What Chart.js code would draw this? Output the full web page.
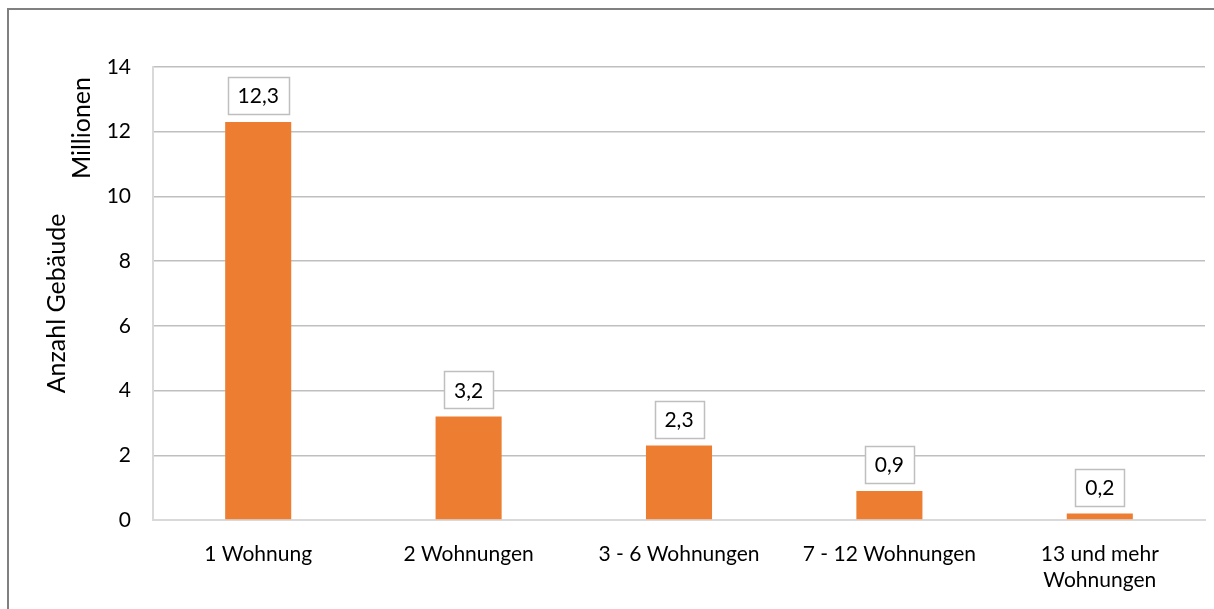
<!DOCTYPE html>
<html><head><meta charset="utf-8">
<script src="https://cdn.jsdelivr.net/npm/chart.js@4.4.0/dist/chart.umd.min.js"></script>
<style>html,body{margin:0;padding:0;background:#fff;}#wrap{width:1214px;height:609px;position:relative;}</style>
</head><body><div id="wrap"><canvas id="c" width="1214" height="609"></canvas></div>
<script>
const categories = [["1 Wohnung"], ["2 Wohnungen"], ["3 - 6 Wohnungen"], ["7 - 12 Wohnungen"], ["13 und mehr", "Wohnungen"]];
const values = [12.3, 3.2, 2.3, 0.9, 0.2];
const valueLabels = ["12,3", "3,2", "2,3", "0,9", "0,2"];
const yTitle = "Anzahl Gebäude";
const unitLabel = "Millionen";
const FONT = "Lato, 'Open Sans', sans-serif";

const decor = {
  id: 'decor',
  beforeDraw(chart) {
    const ctx = chart.ctx;
    ctx.save();
    ctx.fillStyle = '#fff';
    ctx.fillRect(0, 0, chart.width, chart.height);
    ctx.strokeStyle = '#808080';
    ctx.lineWidth = 2;
    ctx.beginPath();
    ctx.moveTo(8, chart.height + 2);
    ctx.lineTo(8, 9);
    ctx.lineTo(chart.width + 2, 9);
    ctx.stroke();
    ctx.restore();
  },
  afterDraw(chart) {
    const ctx = chart.ctx;
    const ys = chart.scales.y;
    ctx.save();
    ctx.fillStyle = '#000';
    ctx.font = '25px ' + FONT;
    ctx.textAlign = 'center';
    ctx.textBaseline = 'alphabetic';
    ctx.translate(65, (ys.top + ys.bottom) / 2 + 10);
    ctx.rotate(-Math.PI / 2);
    ctx.fillText(yTitle, 0, 0);
    ctx.restore();
    ctx.save();
    ctx.fillStyle = '#000';
    ctx.font = '25px ' + FONT;
    ctx.textAlign = 'right';
    ctx.textBaseline = 'alphabetic';
    ctx.translate(90, ys.top + 10);
    ctx.rotate(-Math.PI / 2);
    ctx.fillText(unitLabel, 0, 0);
    ctx.restore();
  },
  afterDatasetsDraw(chart) {
    const ctx = chart.ctx;
    const meta = chart.getDatasetMeta(0);
    ctx.save();
    ctx.font = '21px ' + FONT;
    ctx.textAlign = 'center';
    ctx.textBaseline = 'middle';
    meta.data.forEach((bar, i) => {
      const t = valueLabels[i];
      const w = Math.round(ctx.measureText(t).width + 20);
      const h = 37;
      const bottom = bar.y - 8;
      const x0 = Math.round(bar.x - w / 2) + 0.5;
      const y0 = Math.round(bottom - h) + 0.5;
      ctx.fillStyle = '#fff';
      ctx.fillRect(x0, y0, w, h);
      ctx.strokeStyle = '#bfbfbf';
      ctx.lineWidth = 1.5;
      ctx.strokeRect(x0, y0, w, h);
      ctx.fillStyle = '#000';
      ctx.fillText(t, bar.x, bottom - h / 2 + 1);
    });
    ctx.restore();
  }
};

new Chart(document.getElementById('c'), {
  type: 'bar',
  data: {
    labels: categories,
    datasets: [{
      data: values,
      backgroundColor: '#ED7D31',
      borderWidth: 0,
      barPercentage: 0.314,
      categoryPercentage: 1
    }]
  },
  options: {
    responsive: false,
    animation: false,
    devicePixelRatio: 1,
    layout: { padding: { top: 67, right: 9, bottom: 0, left: 0 } },
    plugins: { legend: { display: false }, tooltip: { enabled: false } },
    scales: {
      x: {
        grid: { display: false, drawTicks: false },
        border: { display: true, color: '#d9d9d9', width: 2 },
        ticks: { color: '#000', font: { family: FONT, size: 21, lineHeight: 1.25 }, padding: 21, maxRotation: 0, autoSkip: false },
        afterFit(s) { s.height = 89; }
      },
      y: {
        min: 0, max: 14,
        ticks: { stepSize: 2, color: '#000', font: { family: FONT, size: 21 }, padding: 22 },
        grid: { color: '#bfbfbf', lineWidth: 1.5, drawTicks: false },
        border: { display: true, color: '#d9d9d9', width: 2 },
        afterFit(s) { s.width = 153; }
      }
    }
  },
  plugins: [decor]
});
</script>
</body></html>
